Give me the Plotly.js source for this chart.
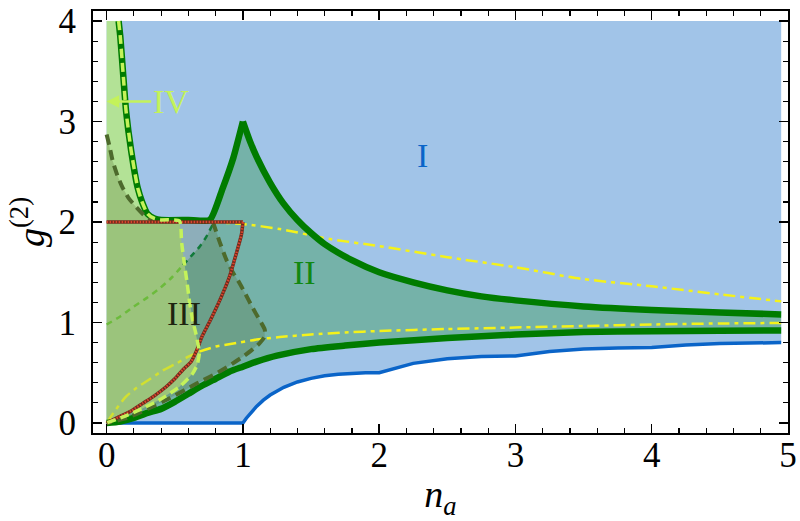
<!DOCTYPE html>
<html>
<head>
<meta charset="utf-8">
<script src="https://cdn.plot.ly/plotly-3.0.1.min.js"></script>
<style>
  html, body { margin: 0; padding: 0; background: #fff; }
  #chart { width: 800px; height: 521px; }
</style>
</head>
<body>
<div id="chart"></div>
<script>
// values (n_a on x, g2 on y)

// blue lower bound (region I)
const blueX = [0, 1, 1.025, 1.05, 1.1, 1.15, 1.2, 1.3, 1.4, 1.5, 1.6, 1.7, 1.8, 1.9, 2.0, 2.25, 2.5, 2.75, 3.0, 3.25, 3.5, 3.75, 4.0, 4.25, 4.5, 4.75, 4.95];
const blueY = [0, 0, 0.047, 0.09, 0.165, 0.227, 0.278, 0.355, 0.408, 0.444, 0.469, 0.484, 0.494, 0.499, 0.5, 0.593, 0.64, 0.661, 0.667, 0.71, 0.735, 0.747, 0.75, 0.775, 0.79, 0.798, 0.8];

// thick green, upper branch (left of the cusp / right of the cusp)
const upGreenLX = [0.088, 0.1, 0.118, 0.143, 0.18, 0.228, 0.26, 0.3, 0.35, 0.4, 0.6, 0.757, 0.85, 0.93, 1.0];
const upGreenLY = [4.0, 3.85, 3.53, 3.1, 2.71, 2.34, 2.2, 2.08, 2.035, 2.02, 2.02, 2.02, 2.33, 2.64, 3.0];
const upGreenRX = [1.0, 1.05, 1.1, 1.2, 1.3, 1.4, 1.5, 1.6, 1.8, 2.0, 2.25, 2.5, 2.75, 3.0, 3.5, 4.0, 4.5, 4.95];
const upGreenRY = [3.0, 2.81, 2.65, 2.39, 2.18, 2.02, 1.89, 1.78, 1.62, 1.5, 1.4, 1.32, 1.26, 1.22, 1.16, 1.125, 1.1, 1.08];

// thick green, lower branch
const lowGreenX = [0, 0.1, 0.2, 0.3, 0.4, 0.5, 0.6, 0.7, 0.8, 0.9, 1.0, 1.1, 1.25, 1.5, 1.75, 2.0, 2.5, 3.0, 3.5, 4.0, 4.5, 4.95];
const lowGreenY = [0, 0.015, 0.05, 0.1, 0.14, 0.21, 0.29, 0.37, 0.44, 0.51, 0.56, 0.61, 0.67, 0.735, 0.77, 0.8, 0.845, 0.88, 0.905, 0.913, 0.917, 0.92];

// light green dashed boundary of region IV (after it leaves the thick green)
const ivX = [0.4, 0.535, 0.55, 0.57, 0.59, 0.61, 0.635, 0.655, 0.675, 0.68, 0.665, 0.63, 0.535, 0.39, 0.24, 0.12, 0];
const ivY = [2.02, 2.01, 1.8, 1.59, 1.4, 1.19, 1.0, 0.89, 0.75, 0.69, 0.58, 0.49, 0.36, 0.23, 0.13, 0.06, 0];

// dark olive dashed curve, left arm and right lobe
const oliveLX = [0, 0.022, 0.044, 0.08, 0.118, 0.16, 0.216, 0.29, 0.35];
const oliveLY = [2.87, 2.75, 2.61, 2.46, 2.34, 2.24, 2.15, 2.05, 2.02];
const oliveRX = [0.78, 0.83, 0.88, 0.93, 0.976, 1.02, 1.07, 1.12, 1.16, 1.16, 1.12, 1.06, 1.0, 0.9, 0.8, 0.7, 0.63, 0.44, 0.3, 0.15, 0];
const oliveRY = [2.0, 1.8, 1.62, 1.49, 1.39, 1.28, 1.15, 1.03, 0.93, 0.86, 0.79, 0.72, 0.66, 0.57, 0.49, 0.42, 0.37, 0.23, 0.14, 0.05, 0];

// thin dashed curve from (0,1) to (0.78,2)
const thinAX = [0, 0.1, 0.19, 0.29, 0.39, 0.48, 0.56];
const thinAY = [0.98, 1.06, 1.15, 1.24, 1.34, 1.45, 1.57];
const thinBX = [0.56, 0.62, 0.68, 0.73, 0.78];
const thinBY = [1.57, 1.66, 1.75, 1.85, 1.98];

// brown dotted: flat part and falling curve
const brownFlatX = [0, 1.0];
const brownFlatY = [2.0, 2.0];
const brownX = [1.0, 0.99, 0.95, 0.9, 0.83, 0.76, 0.7, 0.66, 0.62, 0.56, 0.5, 0.437, 0.35, 0.265, 0.18, 0.09, 0];
const brownY = [2.0, 1.88, 1.68, 1.45, 1.22, 1.02, 0.86, 0.72, 0.61, 0.53, 0.44, 0.36, 0.27, 0.195, 0.12, 0.06, 0];

// yellow dash-dot curves
const yelUpX = [0.75, 1.0, 1.27, 1.64, 2.0, 2.5, 3.0, 3.48, 4.0, 4.5, 4.95];
const yelUpY = [2.0, 1.98, 1.93, 1.83, 1.76, 1.65, 1.55, 1.435, 1.36, 1.28, 1.21];
const yelLowX = [0, 0.05, 0.14, 0.22, 0.31, 0.41, 0.51, 0.6, 0.68, 0.8, 0.93, 1.1, 1.27, 1.5, 1.75, 2.0, 2.5, 3.0, 3.5, 4.0, 4.5, 4.95];
const yelLowY = [0, 0.1, 0.26, 0.35, 0.43, 0.52, 0.59, 0.66, 0.71, 0.76, 0.79, 0.83, 0.855, 0.88, 0.9, 0.915, 0.935, 0.95, 0.965, 0.98, 0.99, 0.995];

const topY = 4.0;
const xEnd = 4.95;

const rev = a => a.slice().reverse();
const upto = (xs, x0) => xs.filter(v => v <= x0).length;

// polygons built from the arrays above
const regI = {
  x: blueX.concat([xEnd, 0]),
  y: blueY.concat([topY, topY])
};
const nL = upto(upGreenLX, 0.757);
const regII = {
  x: lowGreenX.concat(rev(upGreenRX), rev(upGreenLX.slice(nL - 1)), rev(thinBX), rev(thinAX)),
  y: lowGreenY.concat(rev(upGreenRY), rev(upGreenLY.slice(nL - 1)), rev(thinBY), rev(thinAY))
};
const nIV = upto(upGreenLX, 0.4);
const regIV = {
  x: rev(ivX).concat(rev(upGreenLX.slice(0, nIV)), [0]),
  y: rev(ivY).concat(rev(upGreenLY.slice(0, nIV)), [topY])
};
const regOlive = {
  x: oliveLX.concat(oliveRX, [0]),
  y: oliveLY.concat(oliveRY, [oliveLY[0]])
};

function fillTrace(p, color) {
  return { x: p.x, y: p.y, type: 'scatter', mode: 'lines', fill: 'toself',
           fillcolor: color, line: { width: 0 }, hoverinfo: 'skip' };
}
function lineTrace(x, y, color, width, dash, smooth) {
  const line = { color: color, width: width, dash: dash || 'solid' };
  if (smooth) { line.shape = 'spline'; line.smoothing = smooth; }
  return { x: x, y: y, type: 'scatter', mode: 'lines', line: line, hoverinfo: 'skip' };
}

const yelSplit = upto(yelLowX, 0.68);
const dashDot = '12px,5px,4px,5px';

const traces = [
  fillTrace(regI, '#a1c4e8'),
  fillTrace(regII, 'rgba(0,128,0,0.27)'),
  fillTrace(regIV, '#b3e296'),
  fillTrace(regOlive, 'rgba(85,107,47,0.25)'),
  lineTrace(blueX, blueY, '#0a64c8', 3.5),
  lineTrace(thinAX, thinAY, '#6cbb3c', 2.5, '6px,5px', 0.6),
  lineTrace(thinBX, thinBY, '#117a3a', 2.5, '6px,5px', 0.6),
  lineTrace(yelLowX.slice(0, yelSplit), yelLowY.slice(0, yelSplit), '#d2e030', 2.5, dashDot, 0.6),
  lineTrace(yelLowX.slice(yelSplit - 1), yelLowY.slice(yelSplit - 1), '#f4f21a', 2.5, dashDot, 0.6),
  lineTrace(yelUpX, yelUpY, '#f4f21a', 2.5, dashDot, 0.6),
  lineTrace(lowGreenX, lowGreenY, '#007c00', 6.5, 'solid', 0.6),
  lineTrace(upGreenLX, upGreenLY, '#007c00', 6.5, 'solid', 0.5),
  lineTrace(upGreenRX, upGreenRY, '#007c00', 6.5, 'solid', 0.6),
  lineTrace(oliveLX, oliveLY, '#4d6a2c', 4, '10px,6px', 0.6),
  lineTrace(oliveRX, oliveRY, '#4d6a2c', 4, '10px,6px', 0.6),
  lineTrace(brownFlatX, brownFlatY, '#6e2a1c', 3.5),
  lineTrace(brownFlatX, brownFlatY, '#d8442c', 2.5, '1.5px,1.5px'),
  lineTrace(brownX, brownY, '#6e2a1c', 3.5, 'solid', 0.6),
  lineTrace(brownX, brownY, '#d8442c', 2.5, '1.5px,1.5px', 0.6),
  lineTrace(upGreenLX.slice(0, nIV).concat(ivX), upGreenLY.slice(0, nIV).concat(ivY), '#c4f25a', 3.5, '9px,5px', 0.5)
];

const serif = 'Liberation Serif';
const axisCommon = {
  showgrid: false, zeroline: false,
  showline: true, linecolor: '#000', linewidth: 2, mirror: 'ticks',
  ticks: 'inside', ticklen: 9, tickwidth: 1.5, tickcolor: '#000',
  tickfont: { family: serif, size: 35, color: '#000' },
  minor: { ticks: 'inside', ticklen: 5, tickwidth: 1.2, tickcolor: '#000', dtick: 0.2, showgrid: false }
};

const layout = {
  width: 800, height: 521,
  margin: { l: 93, r: 12, t: 11, b: 88 },
  paper_bgcolor: '#fff', plot_bgcolor: '#fff',
  showlegend: false,
  font: { family: serif, size: 30, color: '#000' },
  xaxis: Object.assign({}, axisCommon, {
    range: [-0.1, 5], tickvals: [0, 1, 2, 3, 4, 5], ticklabelstandoff: -10,
    title: { text: '<i>n</i><sub><i>a</i></sub>', font: { family: serif, size: 38, color: '#000' }, standoff: 6 }
  }),
  yaxis: Object.assign({}, axisCommon, {
    range: [-0.1, 4.1], tickvals: [0, 1, 2, 3, 4], ticklabelstandoff: 8,
    title: { text: '<i>g</i><sup>(2)</sup>', font: { family: serif, size: 38, color: '#000' }, standoff: 2 }
  }),
  annotations: [
    { x: 2.32, y: 2.66, xref: 'x', yref: 'y', text: 'I', showarrow: false,
      font: { family: serif, size: 34, color: '#0a64c8' } },
    { x: 1.45, y: 1.5, xref: 'x', yref: 'y', text: 'II', showarrow: false,
      font: { family: serif, size: 34, color: '#118811' } },
    { x: 0.57, y: 1.09, xref: 'x', yref: 'y', text: 'III', showarrow: false,
      font: { family: serif, size: 34, color: '#1e2410' } },
    { x: 0, y: 3.2, xref: 'x', yref: 'y', text: 'IV', showarrow: true,
      ax: 64, ay: 0, arrowhead: 2, arrowsize: 1, arrowwidth: 2.5, arrowcolor: '#c4f25a',
      font: { family: serif, size: 34, color: '#c4f25a' } }
  ]
};

Plotly.newPlot(document.getElementById('chart'), traces, layout, { staticPlot: true });
</script>
</body>
</html>
